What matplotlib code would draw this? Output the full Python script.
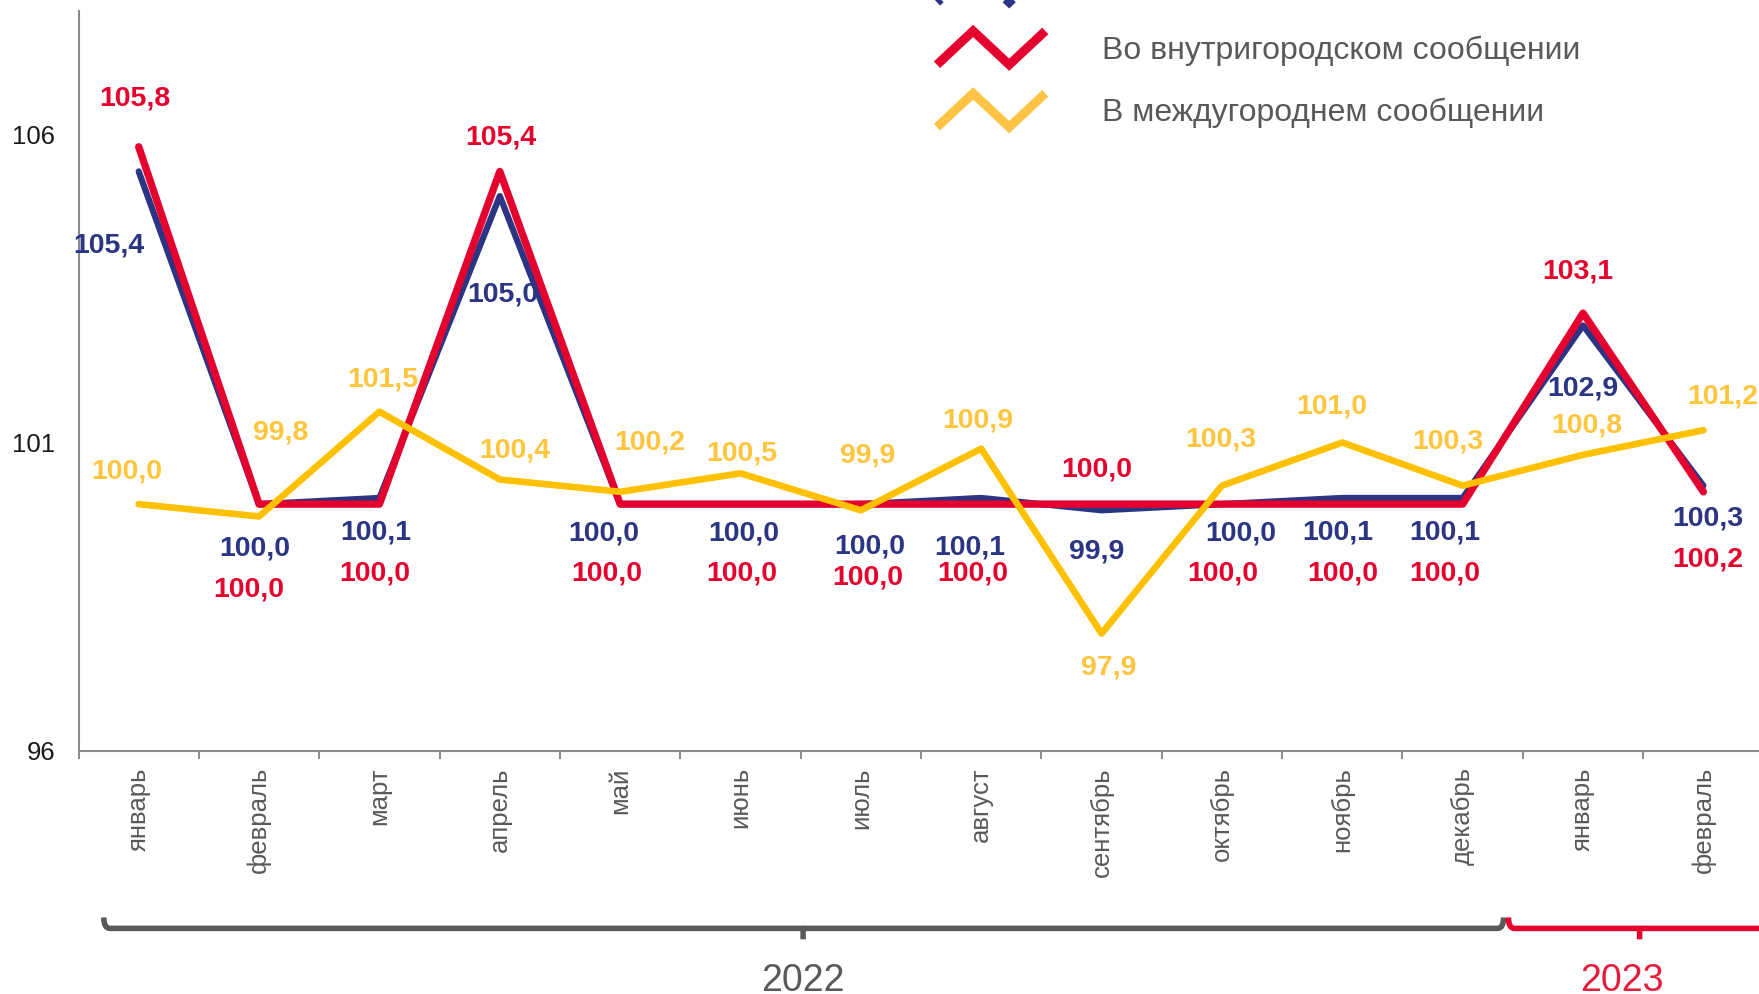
import numpy as np
import matplotlib
matplotlib.use("Agg")
import matplotlib.pyplot as plt
from matplotlib.lines import Line2D
from matplotlib.legend_handler import HandlerBase
from matplotlib.path import Path
from matplotlib.patches import PathPatch
import matplotlib.transforms as mtransforms

plt.rcParams['font.family'] = ['Liberation Sans', 'DejaVu Sans']

# ---- данные ----
months = ["январь", "февраль", "март", "апрель", "май", "июнь", "июль",
          "август", "сентябрь", "октябрь", "ноябрь", "декабрь",
          "январь", "февраль"]
total = [105.4, 100.0, 100.1, 105.0, 100.0, 100.0, 100.0, 100.1, 99.9,
         100.0, 100.1, 100.1, 102.9, 100.3]
intracity = [105.8, 100.0, 100.0, 105.4, 100.0, 100.0, 100.0, 100.0, 100.0,
             100.0, 100.0, 100.0, 103.1, 100.2]
intercity = [100.0, 99.8, 101.5, 100.4, 100.2, 100.5, 99.9, 100.9, 97.9,
             100.3, 101.0, 100.3, 100.8, 101.2]
series_names = ["Всего", "Во внутригородском сообщении", "В междугороднем сообщении"]
years = ["2022", "2023"]

# ---- оформление ----
NAVY = "#2B3584"
RED = "#E4032E"
YELLOW = "#FFC000"
YELLOW_TXT = "#FFC53D"
GRAY = "#595959"

# смещения подписей (px исходной картинки 1568 px)
off_total = [(-27, -66), (-4, -40), (-3, -31), (3, -88), (-15, -26), (3, -26),
             (8, -38), (-10, -44), (-4, -37), (17, -26), (-4, -31), (-16, -31),
             (0, -56), (4, -29)]
off_intra = [(-3, 43), (-9, -76), (-4, -62), (1, 30), (-12, -62), (1, -62),
             (6, -65), (-8, -62), (-4, 31), (1, -62), (0, -62), (-16, -62),
             (-5, 37), (4, -60)]
off_inter = [(-11, 29), (19, 75), (3, 29), (13, 26), (26, 44), (1, 18),
             (6, 49), (-3, 25), (6, -30), (-1, 41), (-9, 32), (-13, 39),
             (3, 26), (17, 30)]
S = 1759 / 1568


class ZigZag(HandlerBase):
    def create_artists(self, legend, orig_handle, xdescent, ydescent,
                       width, height, fontsize, trans):
        xs = np.array([0, 1 / 3, 2 / 3, 1]) * width - xdescent
        ys = np.array([0, 1, 0, 1]) * height - ydescent
        ln = Line2D(xs, ys, color=orig_handle.get_color(), lw=6.5,
                    solid_joinstyle='miter', solid_capstyle='butt')
        ln.set_transform(trans)
        return [ln]


fig = plt.figure(figsize=(17.59, 9.94), dpi=100)
ax = fig.add_axes([0.04464, 0.2449, 1.0026 - 0.04464, 0.7438])

x = np.arange(len(months))
ax.plot(x, total, color=NAVY, lw=4.5, solid_capstyle='round', zorder=3)
ax.plot(x, intracity, color=RED, lw=5.3, solid_capstyle='round', zorder=4)
ax.plot(x, intercity, color=YELLOW, lw=4.8, solid_capstyle='round', zorder=5)

for vals, offs, col in [(total, off_total, NAVY), (intracity, off_intra, RED),
                        (intercity, off_inter, YELLOW_TXT)]:
    for i, (v, (dx, dy)) in enumerate(zip(vals, offs)):
        ax.annotate(f"{v:.1f}".replace('.', ','), (i, v),
                    xytext=(dx * S, dy * S), textcoords='offset pixels',
                    ha='center', va='center', fontsize=20.5, fontweight='bold',
                    color=col, zorder=6, annotation_clip=False)

ax.set_xlim(-0.5, 13.5)
ax.set_ylim(96, 108)
ax.set_yticks([96, 101, 106])
ax.tick_params(axis='y', length=0, pad=17, labelsize=18.5, labelcolor='#1a1a1a')
ax.set_xticks(x)
ax.set_xticklabels(months, rotation=90, fontsize=18.5, color=GRAY)
ax.tick_params(axis='x', which='major', length=0, pad=12)
ax.set_xticks(np.arange(-0.5, 14, 1), minor=True)
ax.tick_params(axis='x', which='minor', length=6, width=1.3, color='#808080')
for sp in ['top', 'right']:
    ax.spines[sp].set_visible(False)
for sp in ['left', 'bottom']:
    ax.spines[sp].set_color('#8c8c8c')
    ax.spines[sp].set_linewidth(1.5)

# фигурные скобки под подписями месяцев
tr = mtransforms.blended_transform_factory(ax.transData, fig.transFigure)


def brace(x0, x1, xm, y, col, h=0.011, d=0.05):
    verts = [(x0, y + h), (x0, y), (x0 + d, y), (xm, y), (xm, y - h),
             (xm, y), (x1 - d, y), (x1, y), (x1, y + h)]
    codes = [Path.MOVETO, Path.CURVE3, Path.CURVE3, Path.LINETO, Path.LINETO,
             Path.MOVETO, Path.LINETO, Path.CURVE3, Path.CURVE3]
    p = PathPatch(Path(verts, codes), transform=tr, fill=False, edgecolor=col,
                  lw=4, capstyle='butt', joinstyle='round', clip_on=False)
    fig.add_artist(p)


brace(-0.29, 11.34, 5.52, 0.066, GRAY)
brace(11.38, 13.56, 12.47, 0.066, RED)
fig.text(5.52, 0.003, years[0], transform=tr, ha='center', va='baseline',
         fontsize=27, color=GRAY)
fig.text(12.32, 0.003, years[1], transform=tr, ha='center', va='baseline',
         fontsize=27, color="#E31E3C")

handles = [Line2D([], [], color=c) for c in [NAVY, RED, "#FFC445"]]
leg = fig.legend(handles, series_names, handler_map={Line2D: ZigZag()},
                 loc='lower left', bbox_to_anchor=(937 / 1759, 1 - 128 / 994),
                 frameon=False, fontsize=23, labelcolor=GRAY,
                 handlelength=3.39, handleheight=1.25, handletextpad=1.79,
                 labelspacing=0.87, borderpad=0, borderaxespad=0)

fig.savefig("out.png", dpi=100)
